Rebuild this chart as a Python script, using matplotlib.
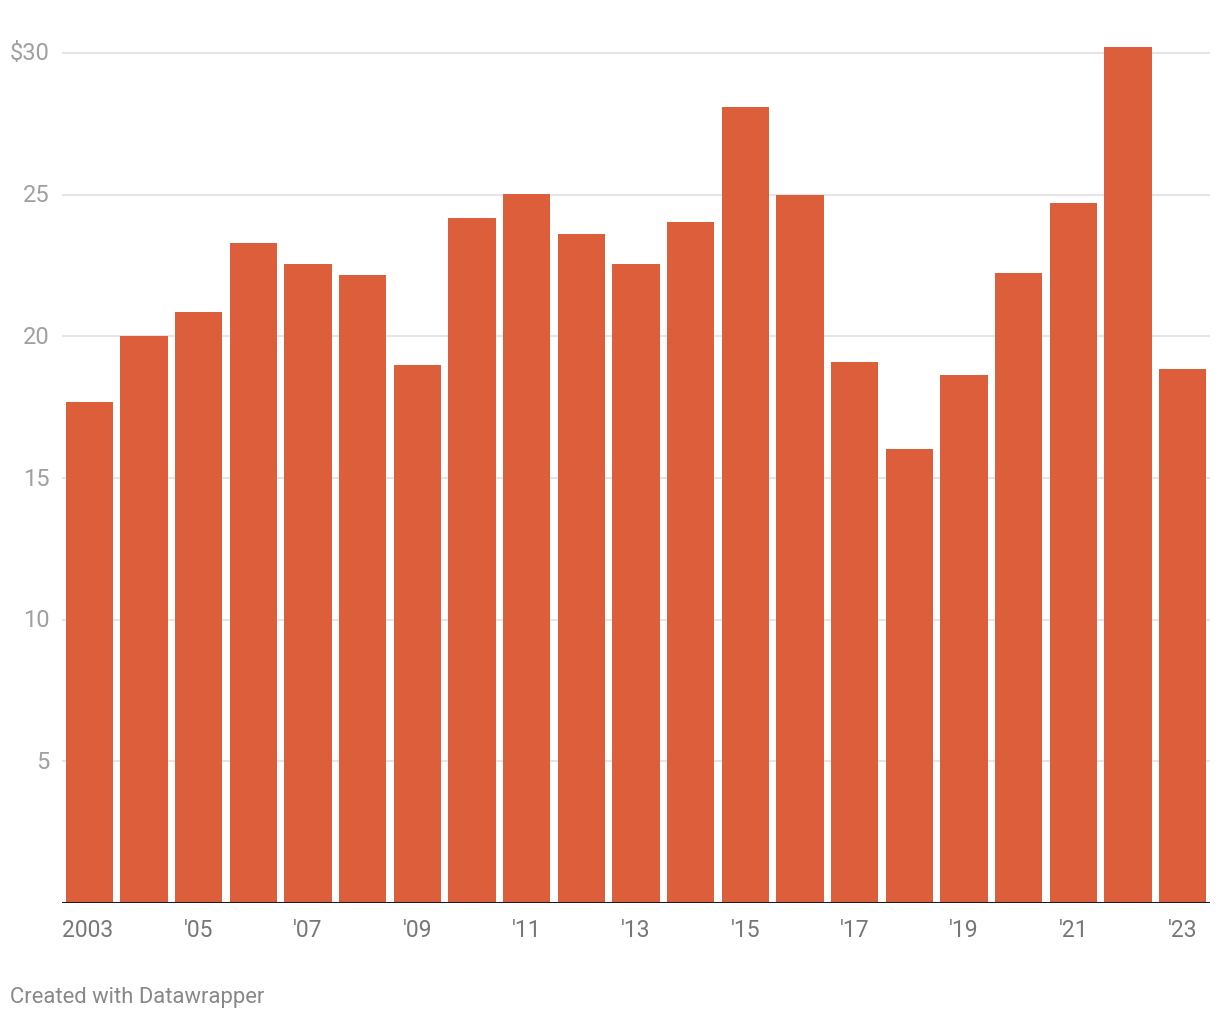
import matplotlib
matplotlib.use("Agg")
import matplotlib.pyplot as plt
import matplotlib.transforms as mtransforms

years = list(range(2003, 2024))
values = [17.70, 20.0, 20.85, 23.29, 22.54, 22.16, 18.98, 24.17, 25.02, 23.60,
          22.54, 24.03, 28.09, 24.98, 19.08, 16.04, 18.62, 22.23, 24.70, 30.21, 18.83]
xtick_labels = ["2003", "'05", "'07", "'09", "'11", "'13", "'15", "'17", "'19", "'21", "'23"]
ytick_values = [5, 10, 15, 20, 25, 30]
ytick_labels = ["5", "10", "15", "20", "25", "$30"]

plt.rcParams['font.family'] = ['Roboto', 'DejaVu Sans']

W, H = 1220, 1020
fig = plt.figure(figsize=(W / 100, H / 100), dpi=100)
left_px, right_px = 62, 1210
base_px = 904
top_val_px = 54  # pixel of 30
ppu = (base_px - top_val_px) / 30.0
ymax = 31.5
top_px = base_px - ymax * ppu
ax = fig.add_axes([left_px / W, 1 - base_px / H, (right_px - left_px) / W, (base_px - top_px) / H])

x = list(range(len(years)))
ax.bar(x, values, width=0.86, color="#dd5e3b", zorder=2)
ax.set_xlim(-0.5, 20.5)
ax.set_ylim(0, ymax)

for v in ytick_values:
    ax.axhline(v, color="#e5e5e5", lw=1.5, zorder=1)
ax.axhline(0, color="#1a1a1a", lw=2.2, zorder=3)

for s in ax.spines.values():
    s.set_visible(False)
ax.set_yticks([])
ax.set_xticks([])

for v, lab in zip(ytick_values, ytick_labels):
    fig.text(50 / W, 1 - (base_px - v * ppu) / H, lab, ha="right", va="center",
             fontsize=17, color="#a0a0a0")

trans = mtransforms.blended_transform_factory(ax.transData, fig.transFigure)
label_idx = list(range(0, 21, 2))
for i, lab in zip(label_idx, xtick_labels):
    ha = "left" if i == 0 else "center"
    xpos = i - 0.5 if i == 0 else i
    ax.text(xpos, 1 - 931 / H, lab, transform=trans,
            ha=ha, va="center", fontsize=16.5, color="#777777")

fig.text(10 / W, 1 - 998 / H, "Created with Datawrapper", ha="left", va="center",
         fontsize=15.8, color="#888888")

fig.savefig("out.png", dpi=100)
